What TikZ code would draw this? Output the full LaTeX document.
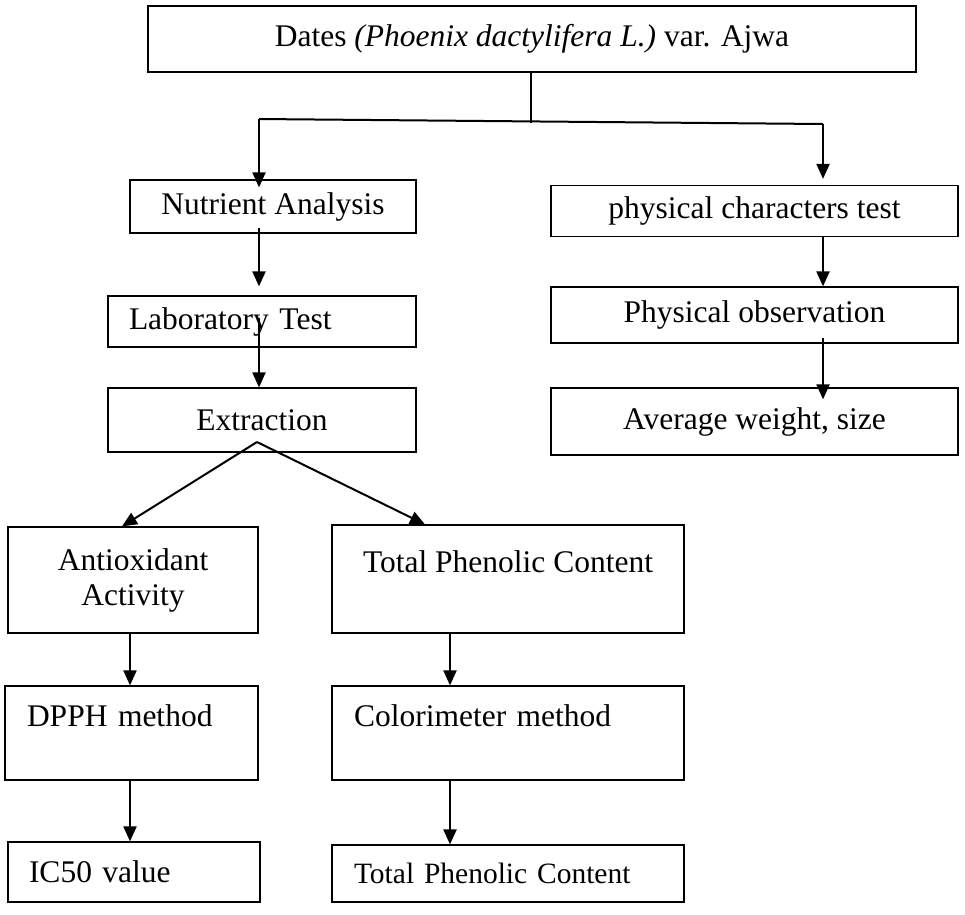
\documentclass[tikz,border=0pt]{standalone}
\usepackage{fontspec}
\setmainfont{Liberation Serif}
\usetikzlibrary{arrows.meta}
\newcommand{\flowfont}{\fontsize{31.5}{35}\selectfont}
\newcommand{\smallflowfont}{\fontsize{29.5}{33}\selectfont}
\tikzset{
  stepbox/.style={draw, line width=1.2pt, inner sep=0pt, align=center, font=\flowfont},
  leftbox/.style={stepbox, align=left, inner xsep=#1},
  flow/.style={-{Triangle[length=15pt,width=13pt]}, line width=2pt},
}
\begin{document}
\begin{tikzpicture}[x=1pt, y=-1pt]
\useasboundingbox (0,0) rectangle (965,914);
% boxes
\node[stepbox, minimum width=768pt, minimum height=66pt] (top) at (532,39) {Dates \textit{(Phoenix dactylifera L.)} var. Ajwa};
\node[stepbox, minimum width=286pt, minimum height=53pt] (nutr) at (273,206.5) {Nutrient Analysis};
\node[stepbox, minimum width=407pt, minimum height=51pt] (phys) at (754.5,211) {physical characters test};
\node[leftbox=21pt, text width=266pt, minimum height=51pt] (lab) at (262,321.5) {Laboratory Test};
\node[stepbox, minimum width=407pt, minimum height=56pt] (obs) at (754.5,315) {Physical observation};
\node[stepbox, minimum width=308pt, minimum height=64pt] (extr) at (262,420) {Extraction};
\node[stepbox, minimum width=407pt, minimum height=67pt] (avg) at (754.5,421.5) {Average weight, size};
\node[stepbox, minimum width=250pt, minimum height=106pt] (anti) at (133,580) {Antioxidant\\Activity};
\node[stepbox, minimum width=352pt, minimum height=108pt] (tpc) at (508,579) {Total Phenolic Content\\\mbox{}};
\node[leftbox=22pt, text width=209pt, minimum height=94pt] (dpph) at (131.5,733) {DPPH method\\\mbox{}};
\node[leftbox=22pt, text width=308pt, minimum height=94pt] (colo) at (508,733) {Colorimeter method\\\mbox{}};
\node[leftbox=21pt, text width=210pt, minimum height=60pt] (ic50) at (134,872) {IC50 value};
\node[leftbox=22pt, text width=308pt, minimum height=57pt, font=\smallflowfont] (tpc2) at (508,873.5) {Total Phenolic Content};
% connectors
\coordinate (stem) at (531,123);
\coordinate (lsplit) at (259,119);
\coordinate (rsplit) at (823,124);
\coordinate (fork) at (257,442);
\coordinate (blcol) at (130,0);
\coordinate (brcol) at (450,0);
\draw[line width=1.3pt] (top.south -| stem) -- (stem);
\draw[line width=2pt] (lsplit) -- (rsplit);
\draw[flow, shorten >=-8pt] (lsplit) -- (nutr.north -| lsplit);
\draw[flow, shorten >=6pt] (rsplit) -- (phys.north -| rsplit);
\draw[flow, shorten <=-6pt, shorten >=9pt] (nutr.south -| lsplit) -- (lab.north -| lsplit);
\draw[flow, shorten <=-30pt] (lab.south -| lsplit) -- (extr.north -| lsplit);
\draw[flow] (phys.south -| rsplit) -- (obs.north -| rsplit);
\draw[flow, shorten <=-6pt, shorten >=-12pt] (obs.south -| rsplit) -- (avg.north -| rsplit);
\draw[flow] (fork) -- ([xshift=-11pt]anti.north);
\draw[flow] (fork) -- ([xshift=-83pt]tpc.north);
\draw[flow] (anti.south -| blcol) -- (dpph.north -| blcol);
\draw[flow] (dpph.south -| blcol) -- (ic50.north -| blcol);
\draw[flow] (tpc.south -| brcol) -- (colo.north -| brcol);
\draw[flow] (colo.south -| brcol) -- (tpc2.north -| brcol);
\end{tikzpicture}
\end{document}
